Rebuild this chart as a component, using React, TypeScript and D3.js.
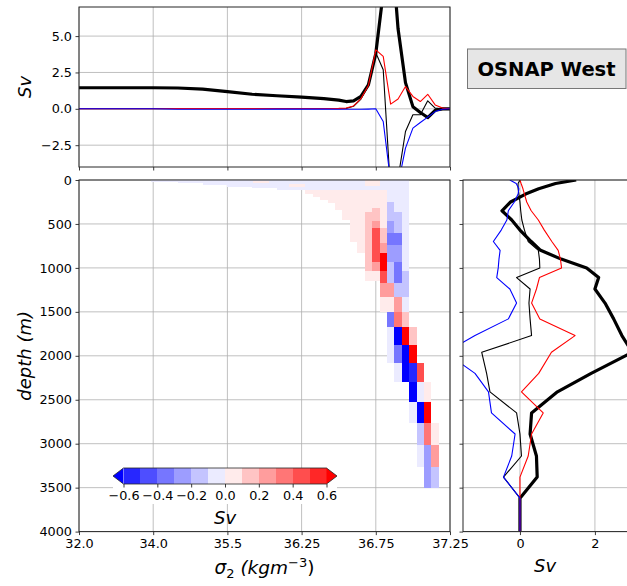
import React, { useEffect, useRef } from "react";
import * as d3 from "d3";

// axis ticks
const sigmaTicks = [32.0, 34.0, 35.5, 36.25, 36.75, 37.25];
const sigmaTickLabels = ["32.0", "34.0", "35.5", "36.25", "36.75", "37.25"];
const depthTicks = [0, 500, 1000, 1500, 2000, 2500, 3000, 3500, 4000];
const topTicks = [-2.5, 0, 2.5, 5];
const topTickLabels = ["\u22122.5", "0.0", "2.5", "5.0"];
const sideTicks = [0, 2];
const cbBounds = [-0.6, -0.5, -0.4, -0.3, -0.2, -0.1, 0, 0.1, 0.2, 0.3, 0.4, 0.5, 0.6];
const cbTicks = [-0.6, -0.4, -0.2, 0, 0.2, 0.4, 0.6];
const cbTickLabels = ["\u22120.6", "\u22120.4", "\u22120.2", "0.0", "0.2", "0.4", "0.6"];

// top panel: transport per density class (Sv)
const topSigma = [32.0, 33.0, 34.0, 34.5, 35.0, 35.5, 35.75, 36.0, 36.25, 36.4, 36.5, 36.55, 36.6, 36.65, 36.7, 36.75, 36.8, 36.85, 36.9, 36.95, 37.0, 37.05, 37.1, 37.15, 37.2, 37.25];
const topThick = [1.45, 1.45, 1.45, 1.43, 1.35, 1.18, 1.0, 0.9, 0.8, 0.7, 0.6, 0.5, 0.55, 0.85, 1.65, 3.8, 8.0, 12.0, 5.5, 1.8, 0.15, -0.25, -0.6, -0.1, 0.0, 0.0];
const topThin = [0, 0, 0, 0, 0, 0, 0, 0, 0, 0, 0, 0.02, 0.17, 0.67, 1.58, 3.85, 2.68, -5.7, -4.8, -1.56, -0.41, -0.41, 0.55, 0.05, 0, 0];
const topRed = [0, 0, 0, 0.02, 0.02, 0.02, 0.02, 0.02, 0.02, 0.02, 0.03, 0.05, 0.2, 0.7, 1.6, 4.05, 3.6, 0.32, 0.67, 1.53, 0.85, 0.5, 1.0, 0.27, 0.05, 0];
const topBlue = [0, 0, 0, -0.03, -0.03, -0.03, -0.03, -0.02, -0.02, -0.02, -0.03, -0.03, -0.03, -0.03, -0.02, 0, -0.87, -5.0, -5.2, -2.7, -1.33, -0.94, -0.57, -0.19, -0.03, 0];

// right panel: transport per depth level (Sv)
const profDepth = [0, 40, 100, 160, 250, 350, 455, 570, 700, 800, 900, 1000, 1110, 1240, 1400, 1580, 1770, 1960, 2200, 2410, 2650, 2890, 3140, 3380, 3620, 4000];
const profThick = [1.5, 0.95, 0.5, 0.15, -0.25, -0.48, -0.22, 0.0, 0.3, 0.55, 1.1, 1.78, 2.1, 2.0, 2.27, 2.5, 2.72, 3.0, 1.9, 1.0, 0.31, 0.27, 0.44, 0.46, 0, 0];
const profThin = [0, -0.05, -0.05, -0.03, 0, 0.02, 0.05, 0.12, 0.22, 0.49, 0.52, 0.53, -0.09, 0.27, 0.24, 0.27, 0.31, -1.02, -0.89, -0.8, -0.09, 0.0, 0.04, -0.44, 0, 0];
const profRed = [0, 0.03, 0.08, 0.12, 0.18, 0.3, 0.49, 0.65, 0.85, 1.02, 1.08, 1.11, 0.52, 0.44, 0.31, 0.53, 1.47, 0.84, 0.5, 0.04, 0.62, 0.31, 0.22, 0, 0, 0];
const profBlue = [-0.27, -0.1, -0.03, -0.05, -0.15, -0.31, -0.35, -0.5, -0.71, -0.53, -0.56, -0.58, -0.62, -0.27, -0.09, -0.31, -1.2, -2.0, -1.2, -0.84, -0.76, -0.13, -0.22, -0.44, 0, 0];

// heatmap: density class centres and [depth top, depth bottom, Sv] cells
const colSigma = [36.3, 36.35, 36.4, 36.45, 36.5, 36.55, 36.6, 36.65, 36.7, 36.75, 36.8, 36.85, 36.9, 36.95, 37.0, 37.05, 37.1, 37.15];
const colCells: [number, number, number][][] = [
  [[110, 160, 0.05]],
  [[110, 190, 0.05]],
  [[110, 230, 0.05]],
  [[110, 260, 0.05]],
  [[110, 340, 0.05]],
  [[110, 460, 0.05]],
  [[110, 700, 0.05]],
  [[110, 830, 0.05]],
  [[0, 70, 0.05], [70, 110, -0.05], [110, 360, 0.05], [360, 1040, 0.15], [1040, 1150, 0.05]],
  [[0, 70, 0.05], [70, 110, -0.05], [110, 320, 0.05], [320, 470, 0.15], [470, 550, 0.25], [550, 930, 0.45], [930, 1040, 0.25], [1040, 1150, 0.05]],
  [[0, 110, -0.05], [110, 550, 0.05], [550, 720, 0.15], [720, 830, 0.25], [830, 1040, 0.65], [1040, 1176, 0.45], [1176, 1328, 0.25], [1328, 1498, 0.05]],
  [[0, 250, -0.05], [250, 470, -0.15], [470, 600, -0.25], [600, 740, -0.35], [740, 930, -0.25], [930, 1176, -0.15], [1176, 1328, 0.25], [1328, 1498, 0.05], [1498, 1669, -0.35], [1669, 2086, -0.05]],
  [[0, 360, -0.05], [360, 600, -0.15], [600, 740, -0.35], [740, 930, -0.25], [930, 1176, -0.35], [1176, 1328, -0.15], [1328, 1498, 0.25], [1498, 1669, 0.35], [1669, 1877, -0.65], [1877, 2086, -0.35], [2086, 2295, -0.05]],
  [[0, 1040, -0.05], [1040, 1328, -0.15], [1328, 1498, -0.05], [1498, 1669, 0.15], [1669, 1877, 0.65], [1877, 2295, -0.65]],
  [[1669, 1877, 0.15], [1877, 2086, 0.65], [2086, 2295, -0.55], [2295, 2522, -0.65], [2522, 2769, -0.05]],
  [[2086, 2295, 0.45], [2295, 2522, -0.05], [2522, 2769, -0.65], [2769, 3015, -0.15], [3015, 3262, -0.05]],
  [[2295, 2522, 0.05], [2522, 2769, 0.65], [2769, 3015, 0.35], [3015, 3508, -0.25]],
  [[2769, 3015, 0.05], [3015, 3262, 0.25], [3262, 3508, -0.15]],
];
// surface sliver of light water: [sigma lo, sigma hi, depth top, depth bottom, Sv]
const surfaceCells: [number, number, number, number, number][] = [
  [33.95, 34.5, 0, 20, -0.05],
  [34.5, 35.0, 0, 35, -0.05],
  [35.0, 35.5, 0, 60, -0.05],
  [35.5, 35.75, 0, 80, -0.05],
  [35.75, 36.0, 0, 95, -0.05],
  [36.0, 36.25, 0, 110, -0.05],
  [36.25, 36.675, 0, 110, -0.05],
  [35.76, 35.92, 8, 38, 0.05],
  [36.12, 36.27, 45, 80, 0.05],
];

export default function App() {
  const ref = useRef<SVGSVGElement>(null);

  useEffect(() => {
    const svg = d3.select(ref.current);
    svg.selectAll("*").remove();
    const font = "'DejaVu Sans', sans-serif";
    svg.style("font-family", font);

    const top = { l: 79, r: 450, t: 7, b: 167 };
    const main = { l: 79, r: 450, t: 180, b: 531.6 };
    const side = { l: 463, r: 650, t: 180, b: 531.6 };
    const grid = "#b0b0b0";
    const spine = "#262626";
    const tickFont = 12.8;

    // stretched density axis: ticks equally spaced
    const x = d3.scaleLinear()
      .domain(sigmaTicks)
      .range(sigmaTicks.map((_, i) => main.l + (i * (main.r - main.l)) / (sigmaTicks.length - 1)));
    const yTop = d3.scaleLinear().domain([-4, 7]).range([top.b, top.t]);
    const yDepth = d3.scaleLinear().domain([0, 4000]).range([main.t, main.b]);
    const xSide = d3.scaleLinear().domain([-1.52, 3.47]).range([side.l, side.r]);

    const bwr = d3.scaleLinear<string>().domain([0, 0.5, 1]).range(["#0000ff", "#ffffff", "#ff0000"]);
    const palette = d3.range(cbBounds.length + 1).map(i => bwr(i / cbBounds.length));
    const colour = d3.scaleThreshold<number, string>().domain(cbBounds).range(palette);

    const defs = svg.append("defs");
    const clip = (id, p) => defs.append("clipPath").attr("id", id)
      .append("rect").attr("x", p.l).attr("y", p.t).attr("width", p.r - p.l).attr("height", p.b - p.t);
    clip("c-top", top);
    clip("c-main", main);
    clip("c-side", side);

    const styleAxis = (g, labels = true) => {
      g.select(".domain").remove();
      g.selectAll(".tick line").attr("stroke", spine).attr("stroke-width", 0.9);
      g.selectAll("text").attr("fill", "#000").attr("font-size", tickFont).attr("font-family", font);
      if (!labels) g.selectAll("text").remove();
    };

    // ---------- TOP PANEL ----------
    const gTop = svg.append("g");
    gTop.append("g").selectAll("line").data(sigmaTicks).join("line")
      .attr("x1", d => x(d)).attr("x2", d => x(d)).attr("y1", top.t).attr("y2", top.b)
      .attr("stroke", grid).attr("stroke-width", 0.8);
    gTop.append("g").selectAll("line").data(topTicks).join("line")
      .attr("x1", top.l).attr("x2", top.r).attr("y1", d => yTop(d)).attr("y2", d => yTop(d))
      .attr("stroke", grid).attr("stroke-width", 0.8);

    const topLine = (vals) => d3.line<number>()
      .x((_, i) => x(topSigma[i])).y(d => yTop(d))(vals);
    const gTopLines = gTop.append("g").attr("clip-path", "url(#c-top)").attr("fill", "none")
      .attr("stroke-linejoin", "round");
    gTopLines.append("path").attr("d", topLine(topThick)).attr("stroke", "#000").attr("stroke-width", 3.2);
    gTopLines.append("path").attr("d", topLine(topThin)).attr("stroke", "#000").attr("stroke-width", 1.1);
    gTopLines.append("path").attr("d", topLine(topRed)).attr("stroke", "#ff0000").attr("stroke-width", 1.1);
    gTopLines.append("path").attr("d", topLine(topBlue)).attr("stroke", "#0000ff").attr("stroke-width", 1.1);

    gTop.append("g").attr("transform", `translate(0,${top.b})`)
      .call(d3.axisBottom(x).tickValues(sigmaTicks).tickSize(3.5).tickFormat(() => ""))
      .call(g => styleAxis(g, false));
    gTop.append("g").attr("transform", `translate(${top.l},0)`)
      .call(d3.axisLeft(yTop).tickValues(topTicks).tickSize(3.5).tickPadding(3.5)
        .tickFormat((_, i) => topTickLabels[i]))
      .call(g => styleAxis(g));
    gTop.append("rect").attr("x", top.l).attr("y", top.t).attr("width", top.r - top.l).attr("height", top.b - top.t)
      .attr("fill", "none").attr("stroke", spine).attr("stroke-width", 1);
    gTop.append("text").attr("transform", `translate(31,${(top.t + top.b) / 2}) rotate(-90)`)
      .attr("text-anchor", "middle").attr("font-size", 18).attr("font-style", "italic").text("Sv");

    // ---------- MAIN PANEL (heatmap) ----------
    const gMain = svg.append("g");
    gMain.append("g").selectAll("line").data(sigmaTicks).join("line")
      .attr("x1", d => x(d)).attr("x2", d => x(d)).attr("y1", main.t).attr("y2", main.b)
      .attr("stroke", grid).attr("stroke-width", 0.8);
    gMain.append("g").selectAll("line").data(depthTicks).join("line")
      .attr("x1", main.l).attr("x2", main.r).attr("y1", d => yDepth(d)).attr("y2", d => yDepth(d))
      .attr("stroke", grid).attr("stroke-width", 0.8);

    const hm = gMain.append("g").attr("clip-path", "url(#c-main)").attr("shape-rendering", "crispEdges");
    hm.selectAll("rect.surf").data(surfaceCells).join("rect").attr("class", "surf")
      .attr("x", d => x(d[0])).attr("width", d => x(d[1]) - x(d[0]))
      .attr("y", d => yDepth(d[2])).attr("height", d => yDepth(d[3]) - yDepth(d[2]))
      .attr("fill", d => colour(d[4]));
    colSigma.forEach((s, i) => {
      const x0 = x(s - 0.025), x1 = x(s + 0.025);
      hm.append("g").selectAll("rect").data(colCells[i]).join("rect")
        .attr("x", x0).attr("width", x1 - x0)
        .attr("y", d => yDepth(d[0])).attr("height", d => yDepth(d[1]) - yDepth(d[0]))
        .attr("fill", d => colour(d[2]));
    });

    gMain.append("g").attr("transform", `translate(0,${main.b})`)
      .call(d3.axisBottom(x).tickValues(sigmaTicks).tickSize(3.5).tickPadding(3.5)
        .tickFormat((_, i) => sigmaTickLabels[i]))
      .call(g => styleAxis(g));
    gMain.append("g").attr("transform", `translate(${main.l},0)`)
      .call(d3.axisLeft(yDepth).tickValues(depthTicks).tickSize(3.5).tickPadding(3.5).tickFormat(d3.format("d")))
      .call(g => styleAxis(g));
    gMain.append("rect").attr("x", main.l).attr("y", main.t).attr("width", main.r - main.l).attr("height", main.b - main.t)
      .attr("fill", "none").attr("stroke", spine).attr("stroke-width", 1);
    gMain.append("text").attr("transform", `translate(31,${(main.t + main.b) / 2}) rotate(-90)`)
      .attr("text-anchor", "middle").attr("font-size", 18).attr("font-style", "italic").text("depth (m)");

    const xl = gMain.append("text").attr("x", (main.l + main.r) / 2).attr("y", 574)
      .attr("text-anchor", "middle").attr("font-size", 18.5).attr("font-style", "italic");
    xl.append("tspan").text("\u03c3");
    xl.append("tspan").attr("dy", 4).attr("font-size", 13).attr("font-style", "normal").text("2");
    xl.append("tspan").attr("dy", -4).text(" (kgm");
    xl.append("tspan").attr("dy", -7).attr("font-size", 13).attr("font-style", "normal").text("\u22123");
    xl.append("tspan").attr("dy", 7).attr("font-style", "normal").text(")");

    // ---------- COLORBAR ----------
    const cb = { l: 123.5, r: 326.5, t: 468, b: 484, tip: 10.5 };
    const cbX = d3.scaleLinear().domain([-0.6, 0.6]).range([cb.l, cb.r]);
    const gCb = svg.append("g");
    gCb.append("rect").attr("x", cb.l - cb.tip).attr("y", cb.b).attr("width", cb.r - cb.l + 2 * cb.tip).attr("height", 20)
      .attr("fill", "#fff");
    gCb.append("g").attr("shape-rendering", "crispEdges").selectAll("rect").data(d3.range(cbBounds.length - 1)).join("rect")
      .attr("x", i => cbX(cbBounds[i])).attr("width", i => cbX(cbBounds[i + 1]) - cbX(cbBounds[i]) + 0.5)
      .attr("y", cb.t).attr("height", cb.b - cb.t).attr("fill", i => palette[i + 1]);
    const mid = (cb.t + cb.b) / 2;
    gCb.append("polygon").attr("points", `${cb.l},${cb.t} ${cb.l - cb.tip},${mid} ${cb.l},${cb.b}`).attr("fill", palette[0]);
    gCb.append("polygon").attr("points", `${cb.r},${cb.t} ${cb.r + cb.tip},${mid} ${cb.r},${cb.b}`).attr("fill", palette[palette.length - 1]);
    gCb.append("polygon")
      .attr("points", `${cb.l},${cb.t} ${cb.r},${cb.t} ${cb.r + cb.tip},${mid} ${cb.r},${cb.b} ${cb.l},${cb.b} ${cb.l - cb.tip},${mid}`)
      .attr("fill", "none").attr("stroke", spine).attr("stroke-width", 0.8);
    gCb.append("g").attr("transform", `translate(0,${cb.b})`)
      .call(d3.axisBottom(cbX).tickValues(cbTicks).tickSize(3.5).tickPadding(3.5)
        .tickFormat((_, i) => cbTickLabels[i]))
      .call(g => styleAxis(g));
    gCb.append("text").attr("x", (cb.l + cb.r) / 2).attr("y", 524).attr("text-anchor", "middle")
      .attr("font-size", 18).attr("font-style", "italic").text("Sv");

    // ---------- RIGHT PANEL (profiles) ----------
    const gSide = svg.append("g");
    gSide.append("g").selectAll("line").data(sideTicks).join("line")
      .attr("x1", d => xSide(d)).attr("x2", d => xSide(d)).attr("y1", side.t).attr("y2", side.b)
      .attr("stroke", grid).attr("stroke-width", 0.8);
    gSide.append("g").selectAll("line").data(depthTicks).join("line")
      .attr("x1", side.l).attr("x2", side.r).attr("y1", d => yDepth(d)).attr("y2", d => yDepth(d))
      .attr("stroke", grid).attr("stroke-width", 0.8);

    const sideLine = (vals) => d3.line<number>()
      .x(d => xSide(d)).y((_, i) => yDepth(profDepth[i]))(vals);
    const gSideLines = gSide.append("g").attr("clip-path", "url(#c-side)").attr("fill", "none")
      .attr("stroke-linejoin", "round");
    gSideLines.append("path").attr("d", sideLine(profThick)).attr("stroke", "#000").attr("stroke-width", 3.2);
    gSideLines.append("path").attr("d", sideLine(profThin)).attr("stroke", "#000").attr("stroke-width", 1.1);
    gSideLines.append("path").attr("d", sideLine(profRed)).attr("stroke", "#ff0000").attr("stroke-width", 1.1);
    gSideLines.append("path").attr("d", sideLine(profBlue)).attr("stroke", "#0000ff").attr("stroke-width", 1.1);

    gSide.append("g").attr("transform", `translate(0,${side.b})`)
      .call(d3.axisBottom(xSide).tickValues(sideTicks).tickSize(3.5).tickPadding(3.5).tickFormat(d3.format("d")))
      .call(g => styleAxis(g));
    gSide.append("g").attr("transform", `translate(${side.l},0)`)
      .call(d3.axisLeft(yDepth).tickValues(depthTicks).tickSize(3.5).tickFormat(() => ""))
      .call(g => styleAxis(g, false));
    gSide.append("rect").attr("x", side.l).attr("y", side.t).attr("width", side.r - side.l).attr("height", side.b - side.t)
      .attr("fill", "none").attr("stroke", spine).attr("stroke-width", 1);
    gSide.append("text").attr("x", 545).attr("y", 572).attr("text-anchor", "middle")
      .attr("font-size", 18).attr("font-style", "italic").text("Sv");

    // ---------- TITLE BOX ----------
    svg.append("rect").attr("x", 467.5).attr("y", 49).attr("width", 158.5).attr("height", 39.5)
      .attr("fill", "#e6e6e6").attr("stroke", "#777").attr("stroke-width", 1);
    svg.append("text").attr("x", 546.5).attr("y", 76).attr("text-anchor", "middle")
      .attr("font-size", 19.5).attr("font-weight", "bold").text("OSNAP West");
  }, []);

  return (
    <div style={{ position: "absolute", left: 0, top: 0, width: 627, height: 586, background: "#fff" }}>
      <svg ref={ref} width={627} height={586} style={{ display: "block" }} />
    </div>
  );
}
